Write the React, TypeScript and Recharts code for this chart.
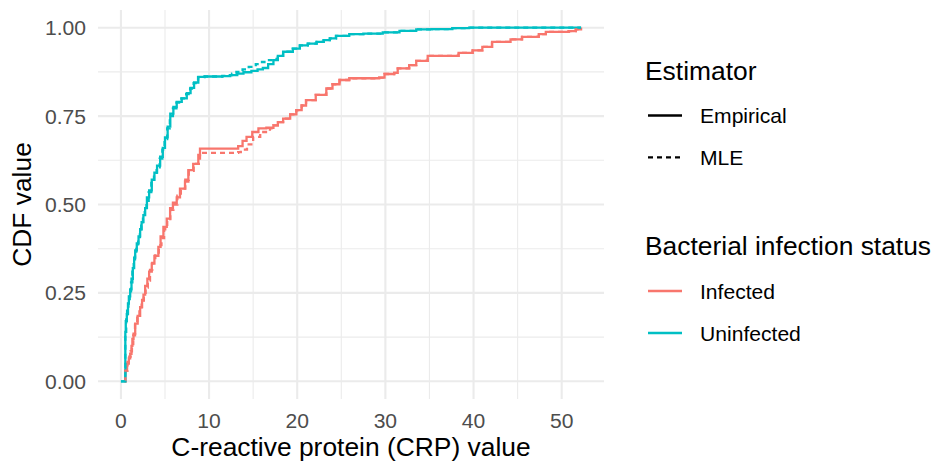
import React from 'react';
import { LineChart, Line, XAxis, YAxis, CartesianGrid } from 'recharts';

const FONT = '"Liberation Sans", Arial, Helvetica, sans-serif';
const RED = '#F8766D';
const TEAL = '#00BFC4';

// Axis ticks
const xTicks = [0, 10, 20, 30, 40, 50];
const xMinor = [5, 15, 25, 35, 45];
const yTicks = [0, 0.25, 0.5, 0.75, 1];
const yMinor = [0.125, 0.375, 0.625, 0.875];

// Uninfected – empirical CDF
const uninfEmpCrp = [0, 0.5, 0.55, 0.67, 0.8, 0.9, 1.05, 1.2, 1.35, 1.5, 1.62, 1.8, 2.0, 2.18, 2.35, 2.55, 2.75, 2.95, 3.2, 3.5, 3.8, 4.1, 4.45, 4.75, 5.0, 5.3, 5.6, 5.95, 6.33, 6.9, 7.47, 7.9, 8.3, 8.78, 9.5, 10.5, 11.5, 12.4, 13.2, 13.9, 14.8, 15.5, 16.1, 16.7, 17.3, 17.8, 18.4, 19.5, 20.3, 21.2, 22.2, 23.0, 23.7, 24.4, 25.9, 27.5, 29.7, 31.6, 33.5, 35.3, 37.6, 39.5, 52.2];
const uninfEmpCdf = [0, 0.14, 0.17, 0.19, 0.22, 0.24, 0.26, 0.29, 0.32, 0.35, 0.37, 0.39, 0.41, 0.43, 0.45, 0.47, 0.49, 0.52, 0.54, 0.57, 0.59, 0.61, 0.635, 0.66, 0.69, 0.72, 0.757, 0.776, 0.79, 0.8, 0.815, 0.83, 0.845, 0.861, 0.862, 0.862, 0.863, 0.866, 0.87, 0.874, 0.878, 0.882, 0.886, 0.897, 0.908, 0.92, 0.932, 0.941, 0.95, 0.955, 0.96, 0.965, 0.97, 0.977, 0.982, 0.983, 0.987, 0.991, 0.995, 0.996, 0.999, 1.0, 1.0];

// Uninfected – MLE
const uninfMleCrp = [0, 0.5, 0.6, 0.7, 0.85, 1.0, 1.15, 1.3, 1.45, 1.6, 1.75, 1.95, 2.15, 2.3, 2.5, 2.7, 2.9, 3.15, 3.45, 3.75, 4.05, 4.4, 4.7, 4.95, 5.25, 5.55, 5.9, 6.3, 6.85, 7.4, 7.85, 8.25, 8.75, 9.5, 10.5, 11.5, 12.0, 12.6, 13.1, 13.8, 14.5, 15.3, 16.0, 16.5, 17.3, 17.8, 18.4, 19.5, 20.3, 21.2, 22.2, 23.0, 23.7, 24.4, 25.9, 27.5, 29.7, 31.6, 33.5, 35.3, 37.6, 39.5, 52.2];
const uninfMleCdf = [0, 0.14, 0.175, 0.2, 0.225, 0.25, 0.28, 0.31, 0.34, 0.36, 0.38, 0.4, 0.425, 0.44, 0.46, 0.485, 0.51, 0.535, 0.565, 0.585, 0.605, 0.63, 0.655, 0.685, 0.715, 0.75, 0.772, 0.788, 0.8, 0.812, 0.828, 0.843, 0.86, 0.862, 0.862, 0.864, 0.866, 0.87, 0.875, 0.882, 0.889, 0.897, 0.903, 0.908, 0.912, 0.92, 0.932, 0.941, 0.95, 0.955, 0.96, 0.965, 0.97, 0.977, 0.982, 0.983, 0.987, 0.991, 0.995, 0.996, 0.999, 1.0, 1.0];

// Infected – empirical CDF
const infEmpCrp = [0.4, 0.5, 0.7, 0.9, 1.05, 1.2, 1.3, 1.43, 1.62, 1.9, 2.18, 2.4, 2.56, 2.75, 3.0, 3.2, 3.5, 3.8, 4.25, 4.5, 4.82, 5.2, 5.58, 5.9, 6.33, 6.7, 7.27, 7.65, 8.2, 8.78, 8.97, 13.3, 13.8, 14.25, 14.9, 15.6, 16.5, 17.3, 17.8, 18.4, 19.2, 19.9, 20.5, 21.0, 22.1, 23.3, 24.0, 24.8, 25.9, 29.3, 29.9, 31.0, 31.4, 32.7, 33.5, 34.8, 38.3, 39.9, 41.0, 42.1, 44.2, 45.5, 47.4, 48.2, 50.8, 51.6, 52.2];
const infEmpCdf = [0, 0.03, 0.05, 0.065, 0.078, 0.1, 0.12, 0.135, 0.163, 0.185, 0.21, 0.23, 0.245, 0.27, 0.29, 0.31, 0.333, 0.355, 0.38, 0.41, 0.437, 0.46, 0.49, 0.505, 0.52, 0.545, 0.565, 0.597, 0.615, 0.64, 0.658, 0.665, 0.68, 0.691, 0.705, 0.715, 0.717, 0.724, 0.733, 0.743, 0.755, 0.767, 0.78, 0.795, 0.81, 0.828, 0.84, 0.852, 0.857, 0.859, 0.869, 0.872, 0.885, 0.894, 0.906, 0.92, 0.929, 0.936, 0.946, 0.96, 0.967, 0.974, 0.982, 0.988, 0.99, 0.995, 1.0];

// Infected – MLE
const infMleCrp = [0.4, 0.5, 0.75, 0.95, 1.1, 1.25, 1.4, 1.6, 1.85, 2.1, 2.35, 2.6, 2.8, 3.05, 3.3, 3.55, 3.9, 4.3, 4.6, 4.9, 5.25, 5.6, 5.95, 6.4, 6.8, 7.3, 7.7, 8.25, 8.97, 13.3, 13.6, 14.3, 15.0, 15.8, 16.9, 17.3, 17.8, 18.4, 19.2, 19.9, 20.5, 21.0, 22.1, 23.3, 24.0, 24.8, 25.9, 29.3, 29.9, 31.0, 31.4, 32.7, 33.5, 34.8, 38.3, 39.9, 41.0, 42.1, 44.2, 45.5, 47.4, 48.2, 50.8, 51.6, 52.2];
const infMleCdf = [0, 0.03, 0.055, 0.07, 0.085, 0.105, 0.13, 0.16, 0.18, 0.205, 0.225, 0.25, 0.265, 0.285, 0.315, 0.335, 0.36, 0.385, 0.405, 0.43, 0.455, 0.485, 0.5, 0.525, 0.545, 0.57, 0.595, 0.615, 0.646, 0.648, 0.655, 0.67, 0.691, 0.705, 0.715, 0.724, 0.733, 0.743, 0.755, 0.767, 0.78, 0.795, 0.81, 0.828, 0.84, 0.852, 0.857, 0.859, 0.869, 0.872, 0.885, 0.894, 0.906, 0.92, 0.929, 0.936, 0.946, 0.96, 0.967, 0.974, 0.982, 0.988, 0.99, 0.995, 1.0];

const toData = (xs: number[], ys: number[]) => xs.map((x, i) => ({ x, y: ys[i] }));

const infEmp = toData(infEmpCrp, infEmpCdf);
const infMle = toData(infMleCrp, infMleCdf);
const uninfEmp = toData(uninfEmpCrp, uninfEmpCdf);
const uninfMle = toData(uninfMleCrp, uninfMleCdf);

const tickStyle = { fontSize: 21.1, fill: '#4D4D4D', fontFamily: FONT };

export default function App() {
  return (
    <div style={{ position: 'absolute', left: 0, top: 0, width: 935, height: 462, background: '#fff', fontFamily: FONT }}>
      <LineChart width={935} height={462} margin={{ top: 10, right: 331, bottom: 0, left: 0 }}>
        <CartesianGrid stroke="#EBEBEB" strokeWidth={1.1} horizontalValues={yMinor} verticalValues={xMinor} />
        <CartesianGrid stroke="#EBEBEB" strokeWidth={2.1} horizontalValues={yTicks} verticalValues={xTicks} />
        <XAxis
          type="number"
          dataKey="x"
          domain={[-2.6, 54.8]}
          ticks={xTicks}
          interval={0}
          allowDataOverflow
          height={63}
          tickLine={false}
          axisLine={false}
          tickSize={0}
          tickMargin={14}
          tick={tickStyle}
        />
        <YAxis
          type="number"
          domain={[-0.05, 1.05]}
          ticks={yTicks}
          interval={0}
          allowDataOverflow
          width={98}
          tickLine={false}
          axisLine={false}
          tickSize={0}
          tickMargin={12}
          tick={tickStyle}
          tickFormatter={(v: number) => v.toFixed(2)}
        />
        <Line data={infEmp} dataKey="y" type="stepAfter" stroke={RED} strokeWidth={2.3} dot={false} activeDot={false} isAnimationActive={false} />
        <Line data={uninfEmp} dataKey="y" type="stepAfter" stroke={TEAL} strokeWidth={2.3} dot={false} activeDot={false} isAnimationActive={false} />
        <Line data={infMle} dataKey="y" type="stepAfter" stroke={RED} strokeWidth={2.3} strokeDasharray="5 4" dot={false} activeDot={false} isAnimationActive={false} />
        <Line data={uninfMle} dataKey="y" type="stepAfter" stroke={TEAL} strokeWidth={2.3} strokeDasharray="5 4" dot={false} activeDot={false} isAnimationActive={false} />
      </LineChart>
      <svg width={935} height={462} style={{ position: 'absolute', left: 0, top: 0, pointerEvents: 'none' }}>
        <g fontFamily={FONT}>
          <text x={351} y={455.5} textAnchor="middle" fontSize={26.4} fill="#000">C-reactive protein (CRP) value</text>
          <text transform="translate(31,204.5) rotate(-90)" textAnchor="middle" fontSize={26.4} fill="#000">CDF value</text>

          <text x={645} y={80} fontSize={26.4} fill="#000">Estimator</text>
          <line x1={648} x2={682} y1={115.5} y2={115.5} stroke="#000" strokeWidth={2.3} />
          <text x={700} y={123} fontSize={21.1} fill="#000">Empirical</text>
          <line x1={648} x2={682} y1={157.3} y2={157.3} stroke="#000" strokeWidth={2.3} strokeDasharray="5 4" />
          <text x={700} y={164.8} fontSize={21.1} fill="#000">MLE</text>

          <text x={645} y={254.5} fontSize={26.4} fill="#000">Bacterial infection status</text>
          <line x1={648} x2={682} y1={291} y2={291} stroke={RED} strokeWidth={2.3} />
          <text x={700} y={298.5} fontSize={21.1} fill="#000">Infected</text>
          <line x1={648} x2={682} y1={333} y2={333} stroke={TEAL} strokeWidth={2.3} />
          <text x={700} y={340.5} fontSize={21.1} fill="#000">Uninfected</text>
        </g>
      </svg>
    </div>
  );
}
